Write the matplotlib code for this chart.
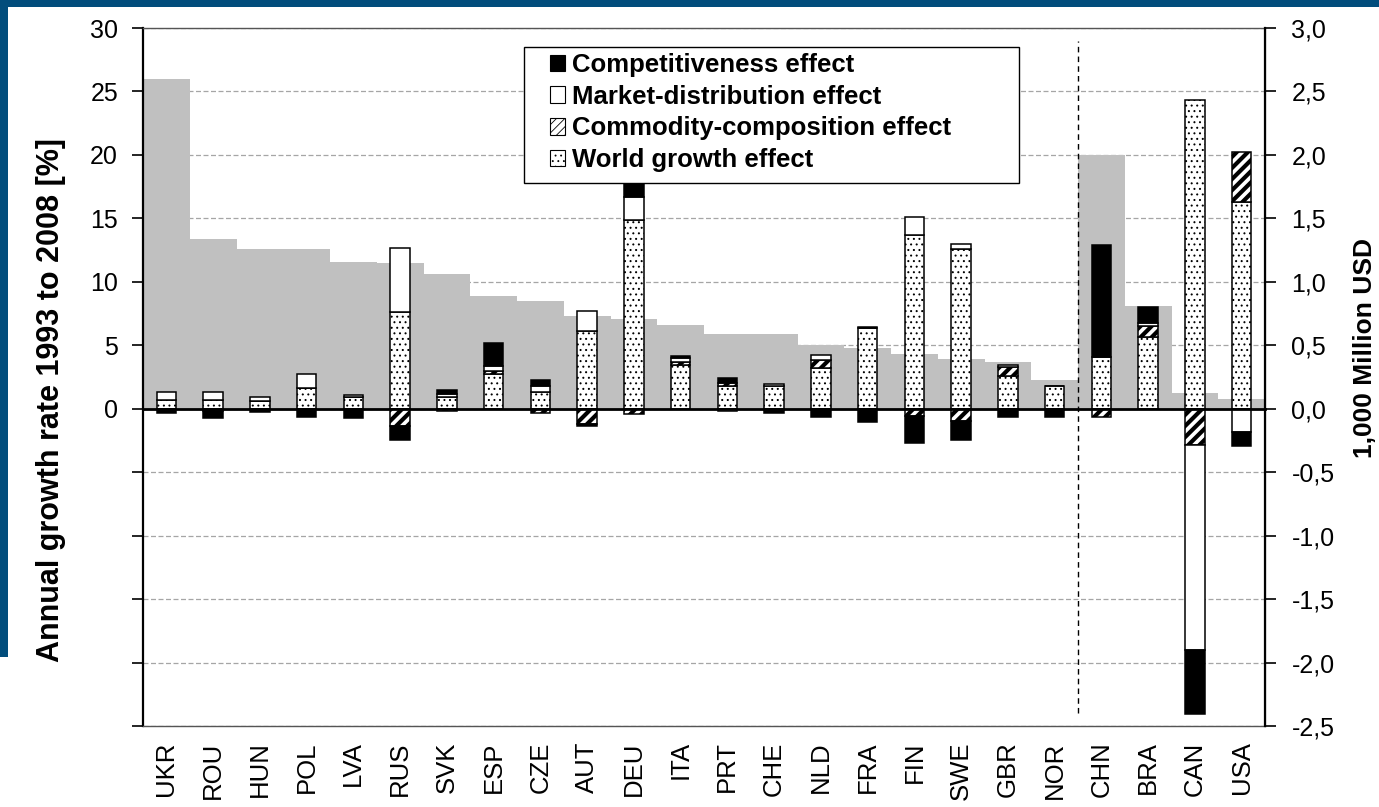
import numpy as np
import matplotlib
matplotlib.use("Agg")
import matplotlib.pyplot as plt
from matplotlib.patches import Rectangle, Patch
from matplotlib.ticker import FixedLocator, FuncFormatter

# ---------------- data ----------------
countries = ["UKR", "ROU", "HUN", "POL", "LVA", "RUS", "SVK", "ESP", "CZE", "AUT",
             "DEU", "ITA", "PRT", "CHE", "NLD", "FRA", "FIN", "SWE", "GBR", "NOR",
             "CHN", "BRA", "CAN", "USA"]
# annual growth rate 1993-2008 [%] (left axis, grey)
growth_rate = [26.0, 13.4, 12.6, 12.6, 11.6, 11.5, 10.6, 8.9, 8.45, 7.3,
               7.1, 6.6, 5.9, 5.9, 5.0, 4.75, 4.3, 3.95, 3.65, 2.3,
               20.0, 8.1, 1.2, 0.8]
# effects in 1,000 million USD (right axis)
world_growth = [0.07, 0.07, 0.06, 0.165, 0.095, 0.765, 0.09, 0.27, 0.13, 0.61,
                1.49, 0.345, 0.18, 0.18, 0.32, 0.64, 1.37, 1.26, 0.255, 0.18,
                0.41, 0.565, 2.435, 1.63]
commodity = [-0.005, -0.02, 0.0, 0.0, 0.0, -0.135, -0.015, 0.03, -0.03, -0.12,
             -0.04, 0.02, 0.02, -0.01, 0.065, 0.0, -0.055, -0.10, 0.07, 0.0,
             -0.065, 0.085, -0.285, 0.395]
market = [0.06, 0.06, 0.03, 0.105, 0.01, 0.50, 0.025, 0.04, 0.05, 0.16,
          0.18, 0.035, -0.02, 0.015, 0.035, 0.005, 0.14, 0.04, 0.02, -0.01,
          0.0, 0.025, -1.62, -0.18]
competitiveness = [-0.03, -0.055, -0.025, -0.065, -0.075, -0.115, 0.035, 0.18, 0.045, -0.02,
                   0.25, 0.012, 0.045, -0.025, -0.068, -0.105, -0.215, -0.145, -0.065, -0.055,
                   0.88, 0.13, -0.50, -0.11]

left_ticks = [-25, -20, -15, -10, -5, 0, 5, 10, 15, 20, 25, 30]
right_ticks = [-2.5, -2.0, -1.5, -1.0, -0.5, 0.0, 0.5, 1.0, 1.5, 2.0, 2.5, 3.0]

legend_labels = ["Competitiveness effect", "Market-distribution effect",
                 "Commodity-composition effect", "World growth effect"]

# ---------------- style ----------------
plt.rcParams["font.family"] = ["Liberation Sans", "DejaVu Sans"]
W, H = 1379, 807
fig = plt.figure(figsize=(W / 100, H / 100), dpi=100)
fig.patch.set_facecolor("white")

L, R, T, B = 143, 1265, 28, 726
ax = fig.add_axes([L / W, 1 - B / H, (R - L) / W, (B - T) / H])
ax2 = ax.twinx()

x = np.arange(len(countries))

# grey growth-rate steps
ax.bar(x, growth_rate, width=1.0, color="#c0c0c0", edgecolor="none", zorder=2)
ax.set_ylim(-25, 30)
ax.set_xlim(-0.5, len(countries) - 0.5)
ax.yaxis.set_major_locator(FixedLocator(left_ticks))
ax.yaxis.set_major_formatter(FuncFormatter(lambda v, p: f"{v:.0f}" if v >= 0 else ""))
ax.set_axisbelow(True)
ax.yaxis.grid(True, color="#a6a6a6", linestyle=(0, (4, 2)), linewidth=0.9, zorder=0)
ax.tick_params(axis="y", direction="out", length=8, width=1.2, labelsize=18, pad=10, colors="black")

# x labels (countries) at the bottom
ax.set_xticks(x)
ax.set_xticklabels(countries, rotation=90, fontsize=18.5)
ax.set_xticks(np.arange(-0.5, len(countries), 1.0), minor=True)
ax.tick_params(axis="x", which="major", length=0, pad=11)
ax.tick_params(axis="x", which="minor", length=0)

for s in ["top", "bottom"]:
    ax.spines[s].set_color("#555555")
    ax.spines[s].set_linewidth(1.0)
ax.spines["left"].set_linewidth(1.6)
ax.spines["left"].set_color("black")

# stacked effect bars on right axis
series = [
    (world_growth, dict(facecolor="white", hatch="...", hatch_lw=0.7)),
    (commodity, dict(facecolor="white", hatch="///", hatch_lw=3.0)),
    (market, dict(facecolor="white", hatch=None, hatch_lw=1.0)),
    (competitiveness, dict(facecolor="black", hatch=None, hatch_lw=1.0)),
]
pos_bottom = np.zeros(len(x))
neg_bottom = np.zeros(len(x))
bw = 0.42
for vals, st in series:
    vals = np.asarray(vals, dtype=float)
    bottoms = np.where(vals >= 0, pos_bottom, neg_bottom)
    plt.rcParams["hatch.linewidth"] = st["hatch_lw"]
    ax2.bar(x, vals, width=bw, bottom=bottoms, facecolor=st["facecolor"],
            edgecolor="black", linewidth=1.1, hatch=st["hatch"], zorder=3)
    pos_bottom = pos_bottom + np.where(vals > 0, vals, 0)
    neg_bottom = neg_bottom + np.where(vals < 0, vals, 0)

ax2.set_ylim(-2.5, 3.0)
ax2.yaxis.set_major_locator(FixedLocator(right_ticks))
ax2.yaxis.set_major_formatter(FuncFormatter(lambda v, p: f"{v:.1f}".replace(".", ",")))
ax2.tick_params(axis="y", direction="out", length=8, width=1.2, labelsize=18, pad=11)
ax2.spines["right"].set_linewidth(1.6)
ax2.spines["left"].set_visible(False)
ax2.spines["top"].set_visible(False)
# zero line acting as category axis
ax2.spines["bottom"].set_position(("data", 0))
ax2.spines["bottom"].set_linewidth(2.0)
ax2.spines["bottom"].set_zorder(4)
ax2.tick_params(axis="x", which="minor", direction="out", length=8, width=1.2, bottom=True)
ax2.tick_params(axis="x", which="major", length=0, labelbottom=False)

# separator between groups
ax2.vlines(19.5, -2.4, 2.9, colors="black", linestyles=(0, (4, 3)), linewidth=1.0, zorder=2)

# axis titles
fig.text(51 / W, 1 - 400 / H, "Annual growth rate 1993 to 2008 [%]", rotation=90,
         ha="center", va="center", fontsize=22, fontweight="bold")
fig.text(1365 / W, 1 - 348 / H, "1,000 Million USD", rotation=90,
         ha="center", va="center", fontsize=19, fontweight="bold")

# legend box
box = Rectangle((524 / W, 1 - 183 / H), (1019 - 524) / W, (183 - 47) / H,
                transform=fig.transFigure, facecolor="white", edgecolor="black",
                linewidth=1.0, zorder=10)
fig.patches.append(box)
plt.rcParams["hatch.linewidth"] = 2.0
h_comp = Patch(facecolor="black", edgecolor="black", linewidth=0.8)
h_mark = Patch(facecolor="white", edgecolor="black", linewidth=0.8)
h_comm = Patch(facecolor="white", edgecolor="black", linewidth=0.8, hatch="////")
plt.rcParams["hatch.linewidth"] = 0.6
h_world = Patch(facecolor="white", edgecolor="black", linewidth=0.8, hatch="...")
leg = fig.legend([h_comp, h_mark, h_comm, h_world], legend_labels,
                 loc="upper left", bbox_to_anchor=(550 / W, 1 - 53 / H),
                 frameon=False, prop=dict(weight="bold", size=18.5),
                 handlelength=0.6, handleheight=0.6, handletextpad=0.25,
                 labelspacing=0.30, borderpad=0, borderaxespad=0)
leg.set_zorder(11)

# blue frame
fig.patches.append(Rectangle((0, 1 - 7 / H), 1, 7 / H, transform=fig.transFigure,
                             facecolor="#024d7c", edgecolor="none", zorder=0))
fig.patches.append(Rectangle((0, 1 - 657 / H), 8 / W, 657 / H, transform=fig.transFigure,
                             facecolor="#024d7c", edgecolor="none", zorder=0))

fig.savefig("out.png", dpi=100)
